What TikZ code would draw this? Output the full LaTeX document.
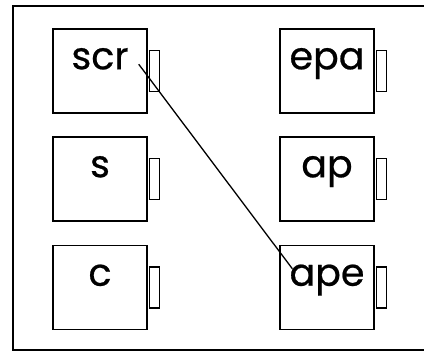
\documentclass[tikz,border=0pt]{standalone}
\usepackage{fontspec}
\setmainfont{Poppins}
\newfontfamily\unitfont[FakeBold=0.6]{Poppins}
\usetikzlibrary{positioning}

\begin{document}
\begin{tikzpicture}[x=1pt, y=1pt,
  unit/.style={draw, line width=1.5pt, minimum width=94pt, minimum height=84pt, inner sep=0pt},
  plug/.style={draw, line width=1.3pt, minimum width=10pt, minimum height=41pt, inner sep=0pt, anchor=west},
  lbl/.style={font=\unitfont\fontsize{38}{40}\selectfont, inner sep=0pt, anchor=base}]
  \useasboundingbox (0,0) rectangle (424,352);
  \clip (0,0) rectangle (424,352);

  % Frame
  \draw[line width=2pt] (13,1.5) rectangle (440,346);

  % Left column
  \node[unit] (scr) at (100,281) {};
  \node[unit] (s) at (100,173) {};
  \node[unit] (c) at (100,64.5) {};

  \node[plug] (scrplug) at ([xshift=1pt]scr.east) {};
  \node[plug] (splug) at ([xshift=1pt]s.east) {};
  \node[plug] (cplug) at ([xshift=1pt]c.east) {};

  \node[lbl] (scrtxt) at ([yshift=-41pt]scr.north) {scr};
  \node[lbl] (stxt) at ([yshift=-41pt]s.north) {s};
  \node[lbl] (ctxt) at ([yshift=-41pt]c.north) {c};

  % Right column
  \node[unit] (epa) at (327,281) {};
  \node[unit] (ap) at (327,173) {};
  \node[unit] (ape) at (327,64.5) {};

  \node[plug] (epaplug) at ([xshift=1pt]epa.east) {};
  \node[plug] (applug) at ([xshift=1pt]ap.east) {};
  \node[plug] (apeplug) at ([xshift=1pt]ape.east) {};

  \node[lbl] (epatxt) at ([yshift=-41pt]epa.north) {epa};
  \node[lbl] (aptxt) at ([yshift=-41pt]ap.north) {ap};
  \node[lbl] (apetxt) at ([yshift=-41pt]ape.north) {ape};

  % Link
  \draw[line width=1.3pt] ([xshift=10pt,yshift=5pt]scrtxt.base east) -- ([xshift=3pt,yshift=17pt]apetxt.base west);
\end{tikzpicture}
\end{document}
